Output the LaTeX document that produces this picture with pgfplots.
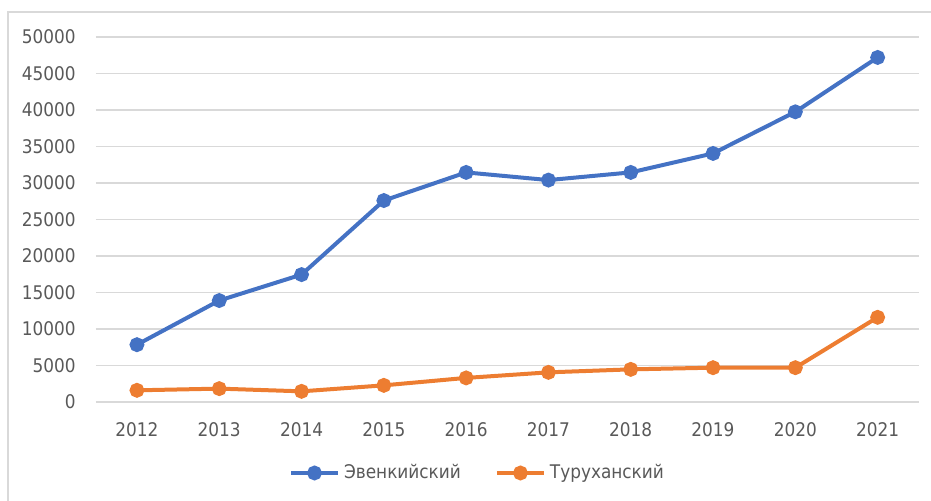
\documentclass[border=0pt]{standalone}
\usepackage{fontspec}
\setmainfont{DejaVu Sans Condensed}
\usepackage{pgfplots}
\pgfplotsset{compat=1.18}
\definecolor{cblue}{HTML}{4472C4}
\definecolor{corange}{HTML}{ED7D31}
\definecolor{cgrid}{HTML}{D9D9D9}
\definecolor{ctext}{HTML}{595959}
\begin{document}
\begin{tikzpicture}
\useasboundingbox (-47.9pt,-49.5pt) rectangle (417.6pt,201pt);
\draw[cgrid, line width=0.8pt] (-43.9pt,-49.5pt) -- (-43.9pt,195pt) -- (417.6pt,195pt);
\begin{axis}[
  scale only axis,
  width=411.5pt, height=182.5pt,
  xmin=2011.5, xmax=2021.5,
  ymin=0, ymax=50000,
  xtick={2012,...,2021},
  ytick={0,5000,...,50000},
  axis line style={draw=none},
  major tick length=0pt,
  ymajorgrids, grid style={cgrid, line width=0.6pt},
  /pgf/number format/1000 sep={},
  /pgf/number format/assume math mode=true,
  scaled y ticks=false,
  tick label style={font=\fontsize{9.4}{11}\selectfont, text=ctext},
  yticklabel style={xshift=-6.5pt},
  xticklabel style={yshift=-6.5pt},
  legend style={at={(axis description cs:0.465,-0.1945)}, anchor=center, draw=none, fill=none,
    font=\fontsize{9.4}{11}\selectfont, text=ctext, legend columns=2,
    /tikz/every even column/.append style={column sep=15pt}},
  legend image code/.code={\draw[#1, mark repeat=2, mark phase=2] plot coordinates {(0pt,0pt) (11.75pt,0pt) (23.5pt,0pt)};},
]
\addplot[cblue, line width=2pt, mark=*, mark size=2.7pt, mark options={draw=none}] coordinates {
(2012,7850) (2013,13900) (2014,17450) (2015,27600) (2016,31450) (2017,30400) (2018,31450) (2019,34050) (2020,39750) (2021,47200)};
\addlegendentry{Эвенкийский}
\addplot[corange, line width=2pt, mark=*, mark size=2.7pt, mark options={draw=none}] coordinates {
(2012,1600) (2013,1830) (2014,1460) (2015,2280) (2016,3300) (2017,4060) (2018,4470) (2019,4700) (2020,4700) (2021,11600)};
\addlegendentry{Туруханский}
\end{axis}
\end{tikzpicture}
\end{document}
